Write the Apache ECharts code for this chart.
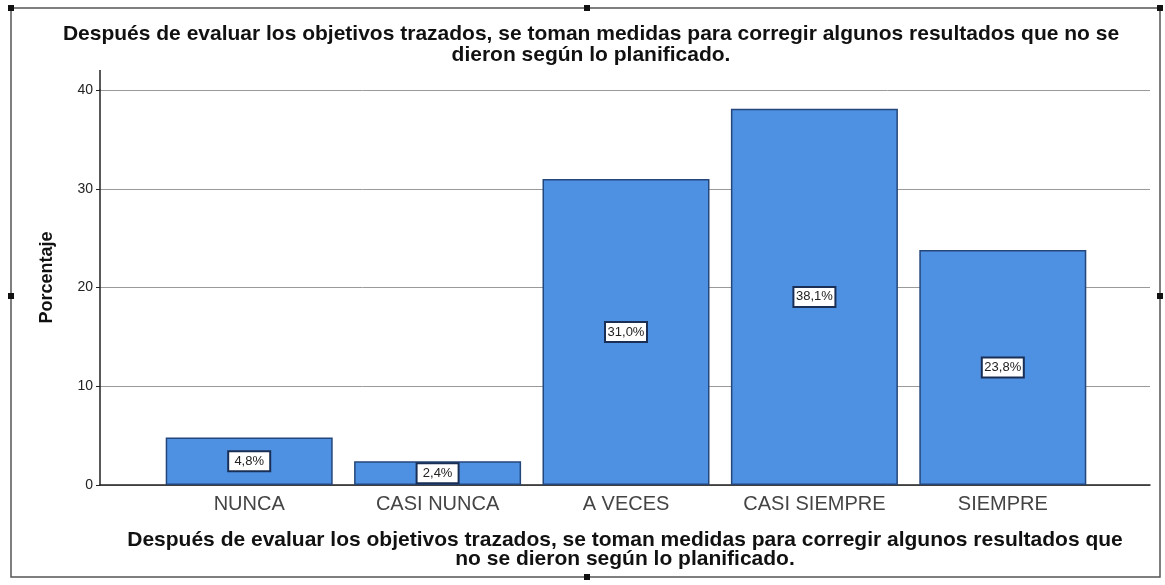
<!DOCTYPE html>
<html lang="es">
<head>
	<meta charset="UTF-8">
	<title>Porcentaje</title>
	<script src="https://cdn.jsdelivr.net/npm/echarts@6/dist/echarts.min.js"></script>
	<style>
		html, body { margin: 0; padding: 0; background: #fff; }
		#chart { width: 1165px; height: 585px; }
	</style>
</head>
<body>
	<div id="chart"></div>

	<script>
		var categorias = ['NUNCA', 'CASI NUNCA', 'A VECES', 'CASI SIEMPRE', 'SIEMPRE'];
		var porcentajes = [4.8, 2.4, 31.0, 38.1, 23.8];
		var ticksY = [0, 10, 20, 30, 40];

		var titulo = 'Después de evaluar los objetivos trazados, se toman medidas para corregir algunos resultados que no se\ndieron según lo planificado.';
		var tituloEje = 'Después de evaluar los objetivos trazados, se toman medidas para corregir algunos resultados que\nno se dieron según lo planificado.';

		var chart = echarts.init(document.getElementById('chart'));

		// cuadritos de selección del marco exterior
		var asas = [[11, 8], [587, 8], [1160, 8], [11, 296], [1160, 296], [587, 577]].map(function (p) {
			return {
				type: 'rect',
				shape: { x: p[0] - 3, y: p[1] - 3, width: 6, height: 6 },
				style: { fill: '#111' },
				z: 10
			};
		});

		var option = {
			backgroundColor: '#fff',
			animation: false,
			graphic: [
				{
					type: 'rect',
					shape: { x: 11, y: 8, width: 1149, height: 569 },
					style: { fill: 'none', stroke: '#555', lineWidth: 1.5 }
				},
				{
					// el eje Y sobresale un poco por encima del 40
					type: 'line',
					shape: { x1: 100, y1: 70, x2: 100, y2: 91 },
					style: { stroke: '#222', lineWidth: 1.5 }
				},
				{
					type: 'text',
					x: 591,
					y: 24,
					style: {
						text: titulo,
						align: 'center',
						verticalAlign: 'top',
						font: 'bold 21px "Liberation Sans"',
						lineHeight: 21,
						fill: '#111'
					}
				},
				{
					type: 'text',
					x: 625,
					y: 531,
					style: {
						text: tituloEje,
						align: 'center',
						verticalAlign: 'top',
						font: 'bold 21px "Liberation Sans"',
						lineHeight: 19,
						fill: '#111'
					}
				}
			].concat(asas),
			grid: [
				{ left: 100, right: 15, top: 90, bottom: 100 },
				{ left: 155, right: 68, top: 90, bottom: 100 }
			],
			xAxis: [
				{
					gridIndex: 0,
					type: 'value',
					min: 0,
					max: 1,
					axisLine: { show: true, lineStyle: { color: '#222', width: 1.5 } },
					axisTick: { show: false },
					axisLabel: { show: false },
					splitLine: { show: false }
				},
				{
					gridIndex: 1,
					type: 'category',
					data: categorias,
					axisLine: { show: false },
					axisTick: { show: false },
					axisLabel: {
						margin: 9,
						fontFamily: 'Liberation Sans',
						fontSize: 20,
						color: '#444'
					}
				}
			],
			yAxis: [
				{
					gridIndex: 0,
					type: 'value',
					min: ticksY[0],
					max: ticksY[ticksY.length - 1],
					interval: 10,
					name: 'Porcentaje',
					nameLocation: 'middle',
					nameGap: 44,
					nameTextStyle: {
						fontFamily: 'Liberation Sans',
						fontWeight: 'bold',
						fontSize: 18,
						color: '#111',
						padding: [0, 0, 0, 20]
					},
					axisLine: { show: true, lineStyle: { color: '#222', width: 1.5 } },
					axisTick: { show: true, length: 4, lineStyle: { color: '#222' } },
					axisLabel: {
						margin: 7,
						fontFamily: 'Liberation Sans',
						fontSize: 14,
						color: '#222'
					},
					splitLine: { show: true, lineStyle: { color: '#9a9a9a', width: 1 } }
				},
				{
					gridIndex: 1,
					type: 'value',
					min: ticksY[0],
					max: ticksY[ticksY.length - 1],
					interval: 10,
					show: false,
					splitLine: { show: false }
				}
			],
			series: [
				{
					type: 'bar',
					xAxisIndex: 1,
					yAxisIndex: 1,
					data: porcentajes,
					barWidth: 167,
					itemStyle: {
						color: '#4e90e2',
						borderColor: '#24467a',
						borderWidth: 1.5
					},
					label: {
						show: true,
						position: 'inside',
						formatter: function (p) {
							return p.value.toFixed(1).replace('.', ',') + '%';
						},
						fontFamily: 'Liberation Sans',
						fontSize: 13,
						color: '#222',
						width: 36,
						align: 'center',
						backgroundColor: '#fff',
						borderColor: '#1a2f55',
						borderWidth: 2,
						padding: [3, 2, 2, 2]
					}
				}
			]
		};

		chart.setOption(option);
	</script>
</body>
</html>
